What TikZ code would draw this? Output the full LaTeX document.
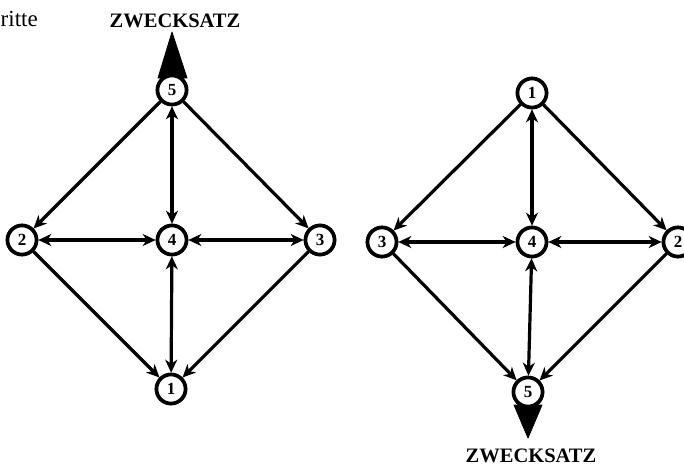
\documentclass[tikz,border=0pt]{standalone}
\usepackage{fontspec}
\setmainfont{Liberation Serif}
\usetikzlibrary{arrows.meta}
\tikzset{
  numnode/.style={circle, draw=black, line width=3.6pt, minimum size=29pt, inner sep=0pt,
    font=\fontsize{17}{17}\selectfont\bfseries, fill=white},
  conn/.style={line width=3.2pt, -{Stealth[length=13pt,width=12pt,inset=4pt]}},
  dconn/.style={line width=3.2pt, {Stealth[length=13pt,width=12pt,inset=4pt]}-{Stealth[length=13pt,width=12pt,inset=4pt]}},
  goal/.style={font=\fontsize{20.5}{20.5}\selectfont\bfseries, inner sep=0pt},
  spike/.style={fill=black, draw=black, line width=0.8pt, line join=round}
}
\begin{document}
\begin{tikzpicture}[x=1pt,y=-1pt]
\useasboundingbox (0,0) rectangle (684,469);
% left diagram
\node[numnode] (L5) at (172,90) {5};
\node[numnode] (L2) at (22,240) {2};
\node[numnode] (L4) at (172,240) {4};
\node[numnode] (L3) at (320,240) {3};
\node[numnode] (L1) at (171,389) {1};
\node[goal] (LZ) at (175,21) {ZWECKSATZ};
\node[font=\fontsize{23}{23}\selectfont, anchor=base west, inner sep=0pt] (ritte) at (0.5,26) {ritte};
\coordinate (LT) at (172,32);
\coordinate (LBa) at (158,78);
\coordinate (LBb) at (187,78);
\filldraw[spike] (LT) -- (LBa) -- (LBb) -- cycle;
\draw[conn] (L5) -- (L2);
\draw[conn] (L5) -- (L3);
\draw[dconn] (L5) -- (L4);
\draw[dconn] (L2) -- (L4);
\draw[dconn] (L4) -- (L3);
\draw[dconn] (L4) -- (L1);
\draw[conn] (L2) -- (L1);
\draw[conn] (L3) -- (L1);
% right diagram
\node[numnode] (R1) at (532,93) {1};
\node[numnode] (R3) at (382,242) {3};
\node[numnode] (R4) at (532,242) {4};
\node[numnode] (R2) at (678,242) {2};
\node[numnode] (R5) at (528,392) {5};
\node[goal] (RZ) at (531,456) {ZWECKSATZ};
\coordinate (RT) at (528,438);
\coordinate (RBa) at (514,405);
\coordinate (RBb) at (542,405);
\filldraw[spike] (RT) -- (RBa) -- (RBb) -- cycle;
\draw[conn] (R1) -- (R3);
\draw[conn] (R1) -- (R2);
\draw[dconn] (R1) -- (R4);
\draw[dconn] (R3) -- (R4);
\draw[dconn] (R4) -- (R2);
\draw[dconn] (R4) -- (R5);
\draw[conn] (R3) -- (R5);
\draw[conn] (R2) -- (R5);
% redraw nodes on top
\foreach \n/\t in {L5/5,L2/2,L4/4,L3/3,L1/1,R1/1,R3/3,R4/4,R2/2,R5/5}{\node[numnode] at (\n) {\t};}
\end{tikzpicture}
\end{document}
